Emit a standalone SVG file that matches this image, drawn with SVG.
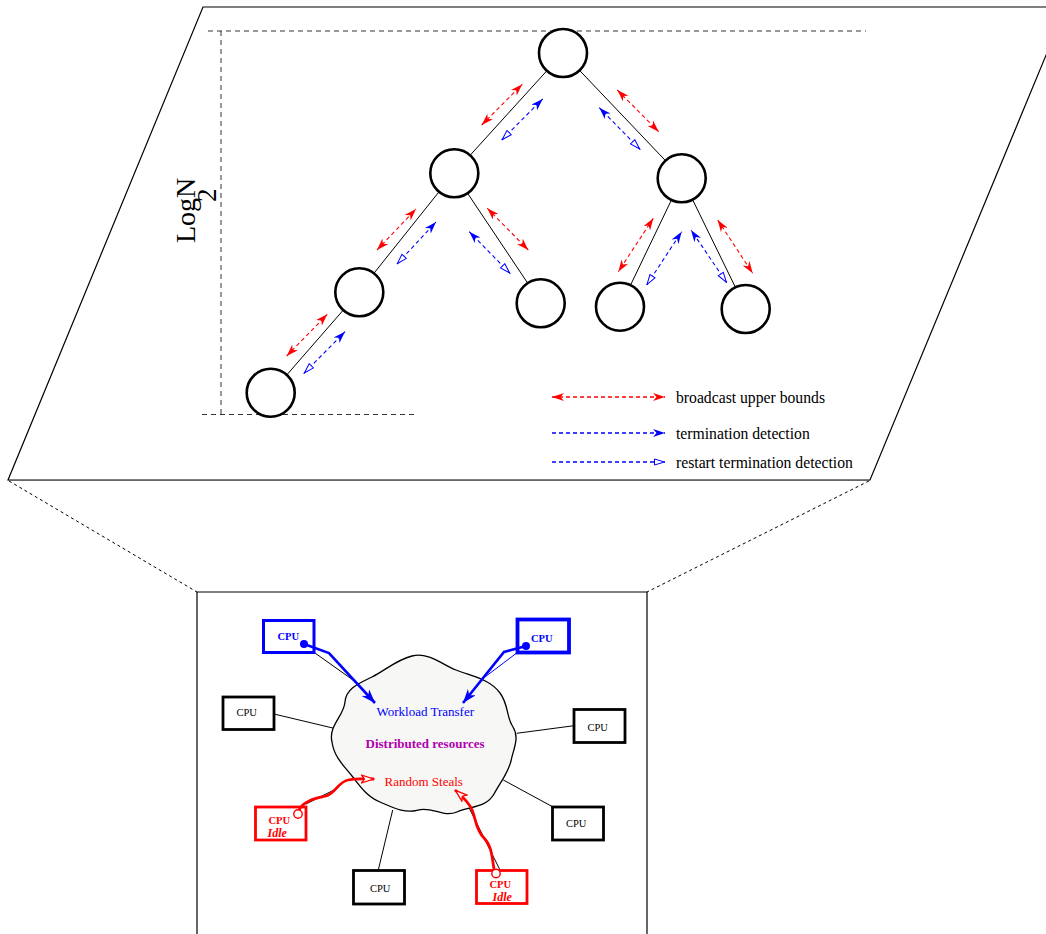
<svg xmlns="http://www.w3.org/2000/svg" width="1046" height="934" viewBox="0 0 1046 934">
<style>
.frame{fill:none;stroke:#000;stroke-width:1.2}
.guide{fill:none;stroke:#333;stroke-width:1;stroke-dasharray:5 4}
.zoomline{fill:none;stroke:#000;stroke-width:1;stroke-dasharray:3 3}
.node{fill:#fff;stroke:#000;stroke-width:2.6}
.edge{stroke:#000;stroke-width:1;fill:none}
.rd{stroke:#f00;stroke-width:1.1;stroke-dasharray:4 3;fill:none;marker-start:url(#ar);marker-end:url(#ar)}
.bd{stroke:#00f;stroke-width:1.1;stroke-dasharray:4 3;fill:none;marker-start:url(#ao);marker-end:url(#ab)}
.rl{stroke:#f00;stroke-width:1.3;stroke-dasharray:4 3;fill:none;marker-start:url(#ar);marker-end:url(#ar)}
.bl{stroke:#00f;stroke-width:1.3;stroke-dasharray:4 3;fill:none}
.serif{font-family:"Liberation Serif","Times New Roman",serif}
.leg{font-size:15.7px;fill:#000}
.cpu{fill:#fff;stroke:#000;stroke-width:2.8}
.cpub{fill:#fff;stroke:#00f;stroke-width:3}
.cpur{fill:#fff;stroke:#f00;stroke-width:2.8}
.ct{font-size:10.5px}
.link{stroke:#000;stroke-width:1;fill:none}
</style>
<defs>
<marker id="ar" viewBox="0 0 12 8" refX="12" refY="4" markerWidth="12" markerHeight="8" markerUnits="userSpaceOnUse" orient="auto-start-reverse"><path d="M0,0 L12,4 L0,8 L3.5,4 Z" fill="#f00"/></marker>
<marker id="ab" viewBox="0 0 12 8" refX="12" refY="4" markerWidth="12" markerHeight="8" markerUnits="userSpaceOnUse" orient="auto-start-reverse"><path d="M0,0 L12,4 L0,8 L3.5,4 Z" fill="#00f"/></marker>
<marker id="ao" viewBox="0 0 12 8" refX="11.5" refY="4" markerWidth="12" markerHeight="8" markerUnits="userSpaceOnUse" orient="auto-start-reverse"><path d="M1,1 L11,4 L1,7 Z" fill="#fff" stroke="#00f" stroke-width="1"/></marker>
<marker id="abig" viewBox="0 0 14 10" refX="14" refY="5" markerWidth="14" markerHeight="10" markerUnits="userSpaceOnUse" orient="auto"><path d="M0,0 L14,5 L0,10 L4,5 Z" fill="#00f"/></marker>
<marker id="ro" viewBox="0 0 14 10" refX="13.5" refY="5" markerWidth="14" markerHeight="10" markerUnits="userSpaceOnUse" orient="auto"><path d="M1,1 L13,5 L1,9 L4,5 Z" fill="#fff" stroke="#f00" stroke-width="1.3"/></marker>
</defs>

<g id="plane">
<polygon class="frame" points="203,7 1066,7 870,480 8,480"/>
<line x1="8" y1="480.5" x2="870" y2="480.5" stroke="#666" stroke-width="1"/>
<line class="zoomline" x1="9" y1="481" x2="197" y2="592"/>
<line class="zoomline" x1="869" y1="481" x2="647" y2="592"/>
<path class="frame" d="M197,934 L197,592 L647,592 L647,934"/>
</g>

<g id="height-guides">
<line class="guide" x1="208" y1="31" x2="866" y2="31"/>
<line class="guide" x1="221" y1="31" x2="221" y2="414"/>
<line class="guide" x1="202" y1="414.5" x2="418" y2="414.5"/>
<text class="serif" font-size="28" transform="translate(195,243) rotate(-90)">LogN</text>
<text class="serif" font-size="27" transform="translate(215.5,202) rotate(-90)">2</text>
</g>

<g id="connectors">
<g id="tree-edges">
<line class="edge" x1="563" y1="53" x2="454" y2="173"/>
<line class="edge" x1="563" y1="53" x2="682" y2="178"/>
<line class="edge" x1="454" y1="173" x2="359" y2="292"/>
<line class="edge" x1="454" y1="173" x2="541" y2="303"/>
<line class="edge" x1="359" y1="292" x2="271" y2="393"/>
<line class="edge" x1="682" y1="178" x2="620" y2="307"/>
<line class="edge" x1="682" y1="178" x2="746" y2="309"/>
</g>
<g id="tree-messages">
<line class="rd" x1="481.7" y1="125" x2="522.3" y2="84.3"/>
<line class="bd" x1="501.7" y1="140" x2="542.7" y2="99"/>
<line class="rd" x1="617.3" y1="90" x2="658.7" y2="131.7"/>
<line class="bd" x1="640" y1="149.3" x2="599.3" y2="107.7"/>
<line class="rd" x1="487.3" y1="208.3" x2="528.3" y2="250"/>
<line class="bd" x1="510" y1="273.3" x2="469.3" y2="231.7"/>
<line class="rd" x1="377" y1="250" x2="416" y2="209"/>
<line class="bd" x1="397" y1="264" x2="436" y2="222"/>
<line class="rd" x1="286.7" y1="356" x2="327.3" y2="314.3"/>
<line class="bd" x1="304" y1="373.3" x2="345" y2="331.7"/>
<line class="rd" x1="653.3" y1="218.3" x2="618.3" y2="271.7"/>
<line class="bd" x1="646.7" y1="285" x2="681.7" y2="231.7"/>
<line class="rd" x1="717.7" y1="220" x2="752.7" y2="273.3"/>
<line class="bd" x1="726.7" y1="282.7" x2="691" y2="230"/>
</g>
<g id="cpu-links">
<line class="link" x1="315" y1="653" x2="360" y2="685"/>
<line x1="518" y1="652" x2="477" y2="683" stroke="#00f" stroke-width="1"/>
<line class="link" x1="274" y1="714" x2="337" y2="729"/>
<line class="link" x1="516.7" y1="733.3" x2="574" y2="725.7"/>
<line class="link" x1="503.3" y1="780" x2="553" y2="807"/>
<line class="link" x1="392.7" y1="810" x2="378.3" y2="870"/>
<line class="link" x1="306" y1="804" x2="334" y2="790"/>
<line class="link" x1="500" y1="870" x2="466" y2="801.7"/>
</g>
</g>

<g id="legend">
<line class="rl" x1="552" y1="397" x2="665" y2="397"/>
<line class="bl" x1="552" y1="433" x2="665" y2="433" marker-end="url(#ab)"/>
<line class="bl" x1="552" y1="462" x2="665" y2="462" marker-end="url(#ao)"/>
<text class="serif leg" x="676" y="403">broadcast upper bounds</text>
<text class="serif leg" x="676" y="439">termination detection</text>
<text class="serif leg" x="676" y="467.5">restart termination detection</text>
</g>

<g id="node-root"><circle class="node" cx="563" cy="53" r="24"/></g>
<g id="node-l1"><circle class="node" cx="454.3" cy="173.3" r="24"/></g>
<g id="node-r1"><circle class="node" cx="681.7" cy="178.3" r="24"/></g>
<g id="node-l2"><circle class="node" cx="359.3" cy="292.3" r="24"/></g>
<g id="node-l1r"><circle class="node" cx="540.7" cy="303.3" r="24"/></g>
<g id="node-r1l"><circle class="node" cx="620" cy="306.7" r="24"/></g>
<g id="node-r1r"><circle class="node" cx="745.7" cy="309" r="24"/></g>
<g id="node-l3"><circle class="node" cx="270.7" cy="392.7" r="24"/></g>

<g id="cloud">
<path d="M332,742 C328,726 344,716 345,702 C346,688 360,683 372,677 C386,670 396,660 412,656 C429,652 441,664 456,670 C471,676 490,679 500,693 C509,705 506,717 513,727 C520,738 513,750 511,761 C508,773 500,783 494,794 C486,808 471,806 457,812 C443,818 432,806 418,810 C404,814 392,807 380,802 C367,797 360,786 352,776 C344,766 334,757 332,742 Z" fill="#f7f7f5" stroke="#000" stroke-width="1.3"/>
<text class="serif" font-size="13" x="376.5" y="715.5" fill="#00f">Workload Transfer</text>
<text class="serif" font-size="13" font-weight="bold" x="365.5" y="747.5" fill="#b000b0">Distributed resources</text>
<text class="serif" font-size="13" x="384.5" y="786" fill="#f00">Random Steals</text>
</g>

<g id="cpu-blue-left">
<rect class="cpub" x="263.5" y="620.5" width="50.5" height="32"/>
<text class="serif ct" font-weight="bold" x="277.5" y="639.5" fill="#00f">CPU</text>
</g>
<g id="cpu-blue-right">
<rect x="517.5" y="619.5" width="51.5" height="33" fill="#fff" stroke="#00f" stroke-width="3.8"/>
<text class="serif ct" font-weight="bold" x="531" y="641.5" fill="#00f">CPU</text>
</g>
<g id="cpu-left">
<rect class="cpu" x="223" y="697" width="51" height="32.5"/>
<text class="serif ct" x="236.5" y="716" fill="#000">CPU</text>
</g>
<g id="cpu-right">
<rect class="cpu" x="574" y="709.5" width="51" height="33"/>
<text class="serif ct" x="587.5" y="730.5" fill="#000">CPU</text>
</g>
<g id="cpu-lower-right">
<rect class="cpu" x="552.5" y="807" width="51" height="33"/>
<text class="serif ct" x="566" y="827" fill="#000">CPU</text>
</g>
<g id="cpu-bottom">
<rect class="cpu" x="353.5" y="870.5" width="51" height="33.5"/>
<text class="serif ct" x="370" y="891.5" fill="#000">CPU</text>
</g>
<g id="cpu-idle-left">
<rect class="cpur" x="255.5" y="807" width="50.5" height="33"/>
<text class="serif ct" font-weight="bold" x="268.5" y="823.5" fill="#f00">CPU</text>
<text class="serif" font-size="12" font-weight="bold" font-style="italic" x="267.5" y="837" fill="#f00">Idle</text>
</g>
<g id="cpu-idle-right">
<rect class="cpur" x="476.5" y="870.5" width="50.5" height="33"/>
<text class="serif ct" font-weight="bold" x="489.5" y="888" fill="#f00">CPU</text>
<text class="serif" font-size="12" font-weight="bold" font-style="italic" x="492.5" y="901" fill="#f00">Idle</text>
</g>

<g id="transfers">
<circle cx="304" cy="644" r="4" fill="#00f"/>
<polyline points="304,644 329,653 375,703" fill="none" stroke="#00f" stroke-width="2.6" marker-end="url(#abig)"/>
<circle cx="526" cy="646" r="4" fill="#00f"/>
<polyline points="526,646 504,652 463,703" fill="none" stroke="#00f" stroke-width="2.6" marker-end="url(#abig)"/>
<circle cx="298" cy="814" r="4.2" fill="#fff" stroke="#f00" stroke-width="1.4"/>
<path d="M299,810 C304,800 318,798 326,796 C336,793 338,782 348,780 C356,778 362,779 374,779" fill="none" stroke="#f00" stroke-width="2.8" marker-end="url(#ro)"/>
<circle cx="496" cy="873.5" r="4.2" fill="#fff" stroke="#f00" stroke-width="1.4"/>
<path d="M494,869 C492,858 492,846 484,838 C474,828 476,814 470,806 C466,800 462,796 455,790" fill="none" stroke="#f00" stroke-width="2.8" marker-end="url(#ro)"/>
</g>
</svg>
